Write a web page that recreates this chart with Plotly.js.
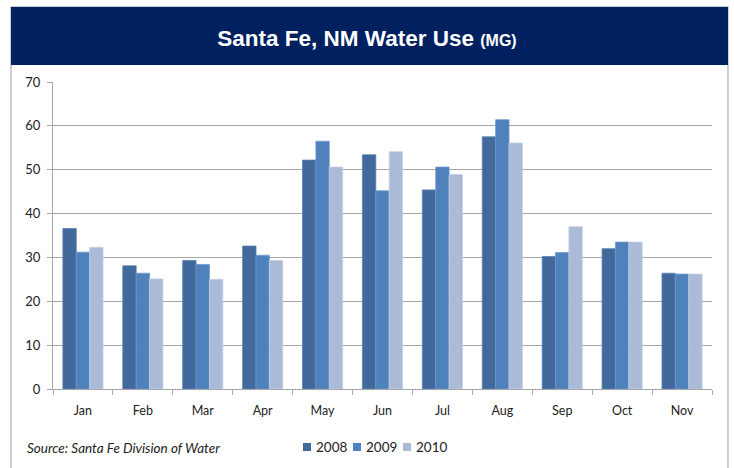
<!DOCTYPE html>
<html>
<head>
<meta charset="utf-8">
<script src="https://cdn.plot.ly/plotly-3.0.1.min.js"></script>
<style>html,body{margin:0;padding:0;background:#fff;}#chart{width:734px;height:468px;}</style>
</head>
<body>
<div id="chart"></div>
<script>
const months = ["Jan","Feb","Mar","Apr","May","Jun","Jul","Aug","Sep","Oct","Nov"];
const use2008 = [36.6, 28.1, 29.3, 32.6, 52.2, 53.4, 45.4, 57.5, 30.2, 32.0, 26.4];
const use2009 = [31.2, 26.4, 28.4, 30.5, 56.5, 45.2, 50.6, 61.4, 31.1, 33.5, 26.2];
const use2010 = [32.3, 25.1, 25.0, 29.3, 50.6, 54.1, 48.9, 56.1, 37.0, 33.5, 26.2];
const seriesNames = ["2008","2009","2010"];
const yTicks = [0,10,20,30,40,50,60,70];

const W = 734, H = 468;
const M = {l:53, r:22, t:82, b:79, autoexpand:false};
const pw = W - M.l - M.r, ph = H - M.t - M.b;
const px = x => (x - M.l) / pw;
const py = y => (H - M.b - y) / ph;

const colors = ["#41699B","#4F81BD","#AABAD7"];
const edges = ["#5A80B0","#7098CC","#C4D0E6"];
const data = [use2008, use2009, use2010].map((v,i) => ({
  type:"bar", x:months, y:v, name:seriesNames[i],
  marker:{color:colors[i], line:{color:edges[i], width:0.8}},
  hoverinfo:"x+y+name"
}));

const font = "Lato, 'Liberation Sans', Arial, sans-serif";

// legend drawn as swatches + labels (positions in pixels)
const legendX = [303, 353, 403];
const legendY = 447;
const legendShapes = seriesNames.map((n,i) => ({
  type:"rect", xref:"paper", yref:"paper",
  x0:px(legendX[i]), x1:px(legendX[i]+8), y0:py(legendY+4), y1:py(legendY-4),
  line:{width:0}, fillcolor:colors[i]
}));
const legendLabels = seriesNames.map((n,i) => ({
  text:n, xref:"paper", yref:"paper", x:px(legendX[i]+11), y:py(legendY),
  xanchor:"left", yanchor:"middle", showarrow:false,
  font:{family:font, size:13.5, color:"#222"}
}));

const layout = {
  width:W, height:H,
  margin:M,
  paper_bgcolor:"#fff", plot_bgcolor:"#fff",
  barmode:"group", bargap:0.33, bargroupgap:0,
  font:{family:font, size:12, color:"#222"},
  showlegend:false,
  title:{
    text:"<b>Santa Fe, NM Water Use <span style='font-size:16px'>(MG)</span></b>",
    font:{family:"'Liberation Sans', Arial, sans-serif", size:22.5, color:"#ffffff"},
    x:0.5, xref:"container", xanchor:"center",
    y:1-38/H, yref:"container", yanchor:"middle"
  },
  xaxis:{
    type:"category", showgrid:false, showline:true, linecolor:"#A6A6A6", linewidth:1,
    ticks:"outside", tickson:"boundaries", ticklen:5, tickcolor:"#A6A6A6",
    tickfont:{family:font, size:12.5, color:"#222"}, ticklabelstandoff:10,
    fixedrange:true
  },
  yaxis:{
    range:[0,70], tickvals:yTicks, showgrid:true, gridcolor:"#A6A6A6", gridwidth:1,
    showline:true, linecolor:"#A6A6A6", linewidth:1, zeroline:false,
    ticks:"outside", ticklen:5, tickcolor:"#A6A6A6",
    tickfont:{family:font, size:13, color:"#222"}, ticklabelstandoff:4,
    fixedrange:true
  },
  shapes:[
    {type:"rect", xref:"paper", yref:"paper", layer:"below",
     x0:px(11), x1:px(728), y0:py(480), y1:py(7),
     line:{color:"#BFBFBF", width:1.5}, fillcolor:"rgba(0,0,0,0)"},
    {type:"rect", xref:"paper", yref:"paper", layer:"below",
     x0:px(11), x1:px(728), y0:py(65), y1:py(7),
     line:{width:0}, fillcolor:"#002060"}
  ].concat(legendShapes),
  annotations:[
    {text:"<i>Source: Santa Fe Division of Water</i>", xref:"paper", yref:"paper",
     x:px(25), y:py(448), xanchor:"left", yanchor:"middle", showarrow:false,
     font:{family:font, size:13.5, color:"#222"}}
  ].concat(legendLabels)
};
Plotly.newPlot("chart", data, layout, {displayModeBar:false, staticPlot:true});
</script>
</body>
</html>
